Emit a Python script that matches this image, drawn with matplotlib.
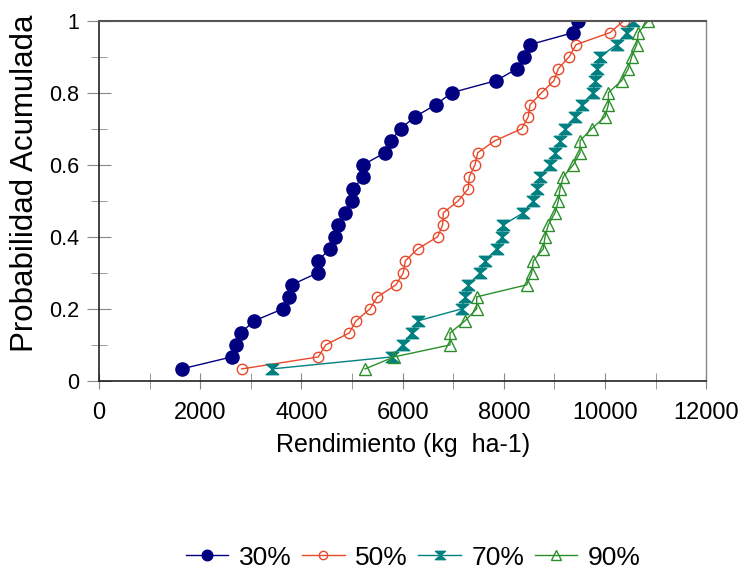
import matplotlib
matplotlib.use("Agg")
import matplotlib.pyplot as plt
from matplotlib.path import Path
from matplotlib.ticker import MultipleLocator
import numpy as np

plt.rcParams.update({
    "font.family": ["Liberation Sans", "DejaVu Sans"],
})

# cumulative probability levels (30 years)
prob = [i / 30 for i in range(1, 31)]

yield_30 = [1634, 2622, 2708, 2800, 3070, 3630, 3755, 3808, 4322, 4322,
            4565, 4664, 4717, 4862, 5000, 5026, 5224, 5224, 5652, 5765,
            5962, 6245, 6660, 6970, 7846, 8267, 8399, 8518, 9374, 9473]
yield_50 = [2820, 4335, 4480, 4947, 5079, 5356, 5500, 5870, 6014, 6054,
            6300, 6693, 6792, 6805, 7101, 7299, 7318, 7431, 7484, 7826,
            8354, 8484, 8518, 8749, 8992, 9077, 9294, 9427, 10099, 10375]
yield_70 = [3413, 5784, 6000, 6180, 6300, 7168, 7233, 7299, 7530, 7628,
            7860, 7958, 7990, 8386, 8583, 8650, 8715, 8913, 9012, 9111,
            9209, 9407, 9539, 9763, 9802, 9835, 9901, 10231, 10428, 10560]
yield_90 = [5257, 5830, 6937, 6937, 7233, 7464, 7464, 8452, 8551, 8583,
            8781, 8814, 8880, 9012, 9077, 9111, 9176, 9374, 9506, 9506,
            9737, 10000, 10066, 10066, 10329, 10461, 10527, 10626, 10659, 10856]

labels = ["30%", "50%", "70%", "90%"]

# hourglass marker: two triangles meeting at the centre
hourglass = Path(
    [(-1.2, 1), (1.2, 1), (0, 0), (-1.2, 1), (0, 0), (1.2, -1), (-1.2, -1), (0, 0)],
    [Path.MOVETO, Path.LINETO, Path.LINETO, Path.CLOSEPOLY,
     Path.MOVETO, Path.LINETO, Path.LINETO, Path.CLOSEPOLY],
)

fig = plt.figure(figsize=(7.38, 5.72), dpi=100)
ax = fig.add_axes([0.134, 0.334, 0.823, 0.630])

ax.plot(yield_30, prob, color="#000080", lw=1, marker="o", ms=9.5,
        mfc="#000080", mec="#000080", label=labels[0])
ax.plot(yield_50, prob, color="#e8482a", lw=1, marker="o", ms=7.5,
        mfc="none", mec="#e8482a", mew=1, label=labels[1])
ax.plot(yield_70, prob, color="#008080", lw=1, marker=hourglass, ms=9,
        mfc="#008080", mec="#008080", label=labels[2])
ax.plot(yield_90, prob, color="#2a8f2a", lw=1, marker="^", ms=9,
        mfc="none", mec="#2a8f2a", mew=1, label=labels[3])

ax.set_xlim(0, 12000)
ax.set_ylim(0, 1)
ax.xaxis.set_major_locator(MultipleLocator(2000))
ax.xaxis.set_minor_locator(MultipleLocator(1000))
ax.yaxis.set_minor_locator(MultipleLocator(0.1))
ax.set_yticks([0, 0.2, 0.4, 0.6, 0.8, 1])
ax.set_yticklabels(["0", "0.2", "0.4", "0.6", "0.8", "1"])

ax.tick_params(axis="x", which="both", direction="inout", length=11,
               color="#888888", labelsize=17, pad=10)
ax.tick_params(axis="y", which="major", direction="inout", length=17,
               color="#888888", labelsize=15.5, pad=6)
ax.tick_params(axis="y", which="minor", direction="inout", length=12,
               color="#888888")

for side in ("left", "bottom"):
    ax.spines[side].set_color("#222222")
    ax.spines[side].set_linewidth(1.2)
ax.spines["top"].set_color("#555555")
ax.spines["top"].set_linewidth(1.5)
ax.spines["right"].set_color("#888888")
ax.spines["right"].set_linewidth(1)

ax.set_xlabel("Rendimiento (kg  ha-1)", fontsize=18, labelpad=6)
ax.set_ylabel("Probabilidad Acumulada", fontsize=22.5)
ax.yaxis.set_label_coords(-0.097, 0.55)

fig.legend(loc="center", bbox_to_anchor=(0.56, 0.025), ncol=4,
           frameon=False, fontsize=19, handlelength=1.6, markerscale=0.8,
           handletextpad=0.4, columnspacing=0.4, borderaxespad=0,
           borderpad=0.1)

fig.savefig("out.png", dpi=100)
